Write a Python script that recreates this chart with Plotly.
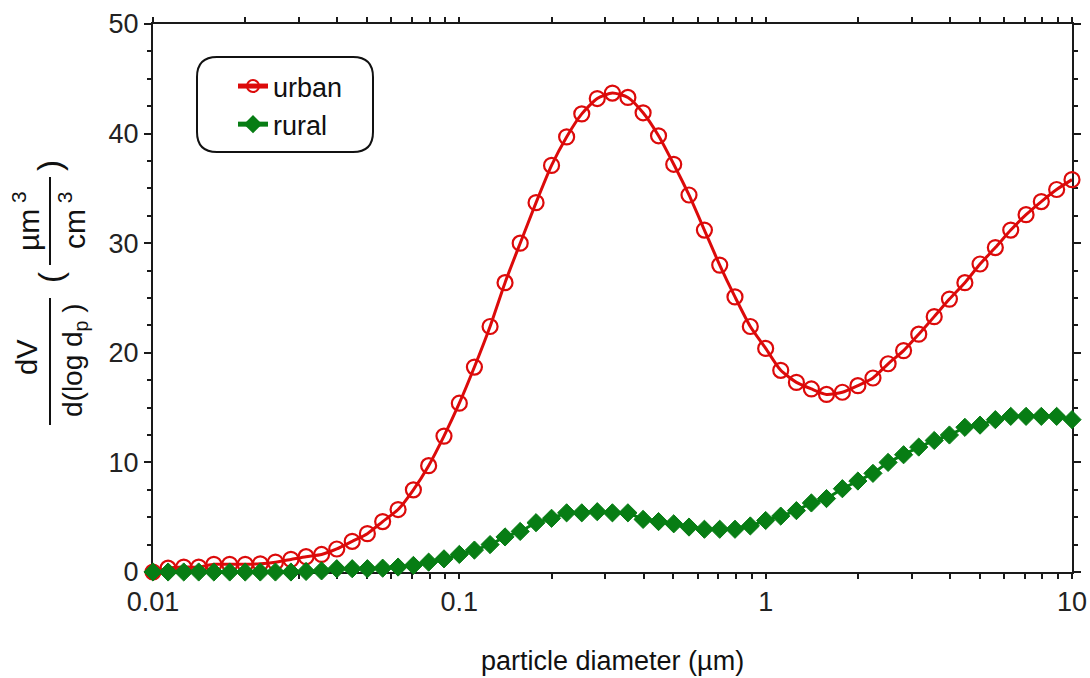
import plotly.graph_objects as go

# ---------------- data ----------------
diameter_um = [0.0100, 0.0112, 0.0126, 0.0141, 0.0158, 0.0178, 0.0200, 0.0224, 0.0251, 0.0282,
               0.0316, 0.0355, 0.0398, 0.0447, 0.0501, 0.0562, 0.0631, 0.0708, 0.0794, 0.0891,
               0.100, 0.112, 0.126, 0.141, 0.158, 0.178, 0.200, 0.224, 0.251, 0.282,
               0.316, 0.355, 0.398, 0.447, 0.501, 0.562, 0.631, 0.708, 0.794, 0.891,
               1.00, 1.12, 1.26, 1.41, 1.58, 1.78, 2.00, 2.24, 2.51, 2.82,
               3.16, 3.55, 3.98, 4.47, 5.01, 5.62, 6.31, 7.08, 7.94, 8.91, 10.0]

urban = [0.0, 0.35, 0.45, 0.45, 0.7, 0.7, 0.7, 0.75, 0.9, 1.15,
         1.4, 1.6, 2.1, 2.8, 3.5, 4.6, 5.7, 7.5, 9.7, 12.4,
         15.4, 18.7, 22.4, 26.4, 30.0, 33.7, 37.1, 39.7, 41.8, 43.2,
         43.7, 43.3, 41.9, 39.8, 37.2, 34.4, 31.2, 28.0, 25.1, 22.4,
         20.4, 18.4, 17.3, 16.7, 16.2, 16.4, 17.0, 17.7, 19.0, 20.2,
         21.7, 23.3, 24.9, 26.4, 28.1, 29.6, 31.2, 32.6, 33.8, 34.9, 35.8]

rural = [0.0, 0.0, 0.0, 0.0, 0.0, 0.0, 0.0, 0.0, 0.0, 0.0,
         0.05, 0.1, 0.3, 0.3, 0.3, 0.35, 0.45, 0.6, 0.9, 1.2,
         1.6, 2.0, 2.5, 3.2, 3.7, 4.5, 4.9, 5.4, 5.4, 5.5,
         5.4, 5.4, 4.8, 4.6, 4.4, 4.1, 3.9, 3.9, 3.9, 4.2,
         4.7, 5.1, 5.6, 6.3, 6.7, 7.6, 8.3, 9.0, 10.0, 10.7,
         11.4, 12.0, 12.5, 13.2, 13.4, 13.9, 14.2, 14.2, 14.2, 14.2, 13.9]

series_names = ["urban", "rural"]
decades = [0.01, 0.1, 1, 10]
decade_labels = ["0.01", "0.1", "1", "10"]
y_ticks = [0, 10, 20, 30, 40, 50]

# ---------------- styling ----------------
W, H = 1090, 678
L, R, T, B = 153, 18, 24, 106
PW, PH = W - L - R, H - T - B
FONT = "Liberation Sans, Arial, sans-serif"
RED = "#dc0a0a"
GREEN = "#077d14"
AX = "#1a1a1a"
TXT = "#222222"


def px(xp):
    return (xp - L) / PW


def py(yp):
    return (H - B - yp) / PH


# minor x ticks at every 2..9 multiple of each decade
minor_vals = [round(d * m, 6) for d in decades[:-1] for m in range(2, 10)]

fig = go.Figure()
fig.add_trace(go.Scatter(
    x=diameter_um, y=urban, name=series_names[0], mode="lines+markers",
    line=dict(color=RED, width=3, shape="spline", smoothing=0.6),
    marker=dict(symbol="circle-open", size=15, color=RED, line=dict(width=2.2, color=RED)),
    cliponaxis=False))
fig.add_trace(go.Scatter(
    x=diameter_um, y=rural, name=series_names[1], mode="lines+markers",
    line=dict(color=GREEN, width=3),
    marker=dict(symbol="diamond", size=14, color=GREEN, line=dict(width=1, color=GREEN)),
    cliponaxis=False))

fig.update_layout(
    width=W, height=H,
    margin=dict(l=L, r=R, t=T, b=B, autoexpand=False),
    paper_bgcolor="white", plot_bgcolor="white",
    font=dict(family=FONT, size=27, color=TXT),
    showlegend=True,
    legend=dict(x=px(233), y=py(62), xanchor="left", yanchor="top",
                bgcolor="rgba(0,0,0,0)", borderwidth=0,
                font=dict(family=FONT, size=27, color="#111111"),
                tracegroupgap=0, itemsizing="constant"),
    xaxis=dict(type="log", range=[-2, 1], tickvals=decades, ticktext=decade_labels,
               ticks="outside", ticklen=5, tickwidth=2, tickcolor=AX,
               minor=dict(tickvals=minor_vals, ticks="outside", ticklen=5, tickwidth=2,
                          tickcolor=AX, showgrid=False),
               showline=True, linewidth=2, linecolor=AX, mirror="ticks",
               showgrid=False, zeroline=False, layer="below traces",
               tickfont=dict(family=FONT, size=27, color=TXT)),
    yaxis=dict(range=[0, 50], tickvals=y_ticks,
               ticks="outside", ticklen=7, tickwidth=2, tickcolor=AX,
               minor=dict(dtick=2.5, ticks="outside", ticklen=4, tickwidth=2, tickcolor=AX, showgrid=False),
               showline=True, linewidth=2, linecolor=AX, mirror="ticks",
               showgrid=False, zeroline=False, layer="below traces",
               tickfont=dict(family=FONT, size=27, color=TXT)),
)

# rounded legend frame
x0, x1, y0, y1, r = 197, 373, 57, 152, 20
def P(a, b):
    return f"{px(a):.5f},{py(b):.5f}"
path = (f"M {P(x0 + r, y0)} L {P(x1 - r, y0)} Q {P(x1, y0)} {P(x1, y0 + r)} "
        f"L {P(x1, y1 - r)} Q {P(x1, y1)} {P(x1 - r, y1)} "
        f"L {P(x0 + r, y1)} Q {P(x0, y1)} {P(x0, y1 - r)} "
        f"L {P(x0, y0 + r)} Q {P(x0, y0)} {P(x0 + r, y0)} Z")
fig.add_shape(type="path", path=path, xref="paper", yref="paper",
              line=dict(color="#111111", width=2), fillcolor="rgba(0,0,0,0)")

# y-axis title built as a stacked fraction
fig.add_shape(type="line", xref="paper", yref="paper",
              x0=px(50), x1=px(50), y0=py(298), y1=py(425), line=dict(color="#111111", width=2))
fig.add_shape(type="line", xref="paper", yref="paper",
              x0=px(50), x1=px(50), y0=py(177), y1=py(265), line=dict(color="#111111", width=2))

def ann(text, xp, yp, size=27):
    fig.add_annotation(text=text, x=px(xp), y=py(yp), xref="paper", yref="paper",
                       textangle=-90, showarrow=False, xanchor="center", yanchor="middle",
                       font=dict(family=FONT, size=size, color="#111111"))

ann("dV", 27, 357, 29)
ann("d(log d<sub>p</sub> )", 75, 360, 28)
ann("µm<sup> 3</sup>", 26, 221, 30)
ann("cm<sup> 3</sup>", 72, 220, 30)
ann("(", 50, 278, 33)
ann(")", 50, 166, 33)

# x-axis title
fig.add_annotation(text="particle diameter (µm)", x=px(612), y=py(661), xref="paper", yref="paper",
                   showarrow=False, xanchor="center", yanchor="middle",
                   font=dict(family=FONT, size=27, color="#111111"))

fig.write_html("out.html", config={"displayModeBar": False},
               post_script="document.body.style.margin='0';document.body.style.overflow='hidden';")
